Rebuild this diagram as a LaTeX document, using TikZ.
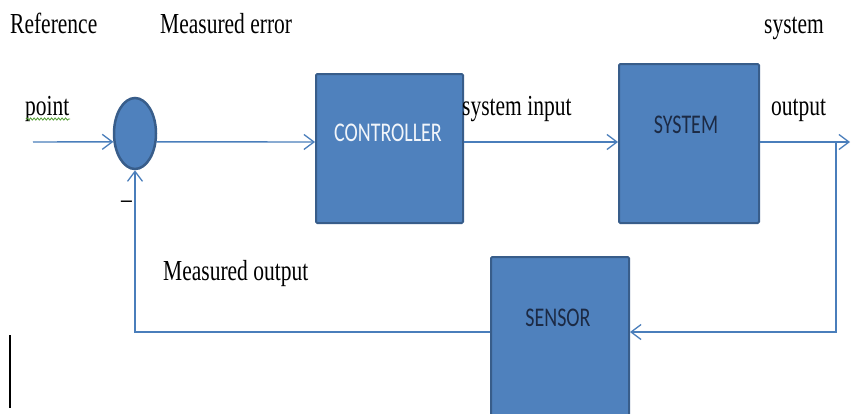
\documentclass[tikz,border=0pt]{standalone}
\usepackage{fontspec}
\setmainfont{Liberation Serif}
\newfontfamily\boxfont{Carlito}
\usetikzlibrary{arrows.meta,shapes.geometric,decorations.pathmorphing}

\definecolor{blockfill}{HTML}{4F81BD}
\definecolor{blockedge}{HTML}{385D8A}
\definecolor{wire}{HTML}{4A7EBB}
\definecolor{darktext}{HTML}{1C2A44}
\definecolor{spellgreen}{HTML}{4E9A2E}

% tall type: the lettering is stretched upward
\newcommand{\tallify}[1]{\scalebox{1}[1.35]{#1}}

\tikzset{
  x=1pt, y=1pt,
  block/.style={draw=blockedge, line width=2pt, fill=blockfill,
    rounded corners=1.2pt, inner sep=0pt, anchor=north west},
  blocklabel/.style={font=\boxfont\fontsize{20}{22}\selectfont, inner sep=0pt},
  label text/.style={font=\fontsize{21.5}{24}\selectfont, inner sep=0pt, anchor=base west, text=black},
  wireline/.style={draw=wire, line width=1.4pt},
  sig/.style={wireline, -{Straight Barb[length=10pt,width=15pt,line width=1.3pt]}},
}

\begin{document}
\begin{tikzpicture}
\clip (0,0) rectangle (851,-413);
\fill[white] (0,0) rectangle (851,-413);

% summing junction
\node[ellipse, draw=blockedge, line width=2.5pt, fill=blockfill,
      minimum width=42pt, minimum height=71pt, inner sep=0pt] (sum) at (135,-133.5) {};

% blocks
\node[block, minimum width=147pt, minimum height=149pt] (ctrl) at (315,-73) {};
\node[block, minimum width=140pt, minimum height=159pt] (sys) at (618,-63) {};
\node[block, minimum width=138pt, minimum height=170pt] (sens) at (490,-256) {};

\node[blocklabel, text=white!92!blockfill] at (388,-133) {\tallify{CONTROLLER}};
\node[blocklabel, text=darktext] at (686,-125) {\tallify{SYSTEM}};
\node[blocklabel, text=darktext] at (558,-318) {\tallify{SENSOR}};

% signal path coordinates
\coordinate (in) at (33,-142);
\coordinate (tap) at (836,-142);
\coordinate (outend) at (850,-142);
\coordinate (fb) at (836,-332);

% forward path
\draw[sig] (in) -- (sum.201.7);
\draw[sig] (sum.-21.7) -- (in -| ctrl.west);
\draw[sig] (in -| ctrl.east) -- (in -| sys.west);
\draw[sig] (in -| sys.east) -- (outend);

% feedback path
\draw[sig] (tap) -- (fb) -- (fb -| sens.east);
\draw[sig] (fb -| sens.west) -- (fb -| sum.south) -- (sum.south);

% labels
\node[label text] at (10,-33) {\tallify{Reference}};
\node[label text] at (160,-33) {\tallify{Measured error}};
\node[label text] at (764,-33) {\tallify{system}};
\node[label text] (pt) at (25,-115) {\tallify{point}};
\node[label text] at (462,-115) {\tallify{system input}};
\node[label text] at (771,-115) {\tallify{output}};
\node[label text] at (163,-280) {\tallify{Measured output}};
\node[label text] at (121,-208) {\tallify{\textendash}};

% spelling squiggle under "point"
\draw[spellgreen, line width=0.8pt, decorate,
      decoration={snake, amplitude=1.1pt, segment length=3.5pt}]
  (26,-119) -- (70,-119);

% text cursor
\draw[black, line width=2pt] (10,-335) -- (10,-408);
\end{tikzpicture}
\end{document}
